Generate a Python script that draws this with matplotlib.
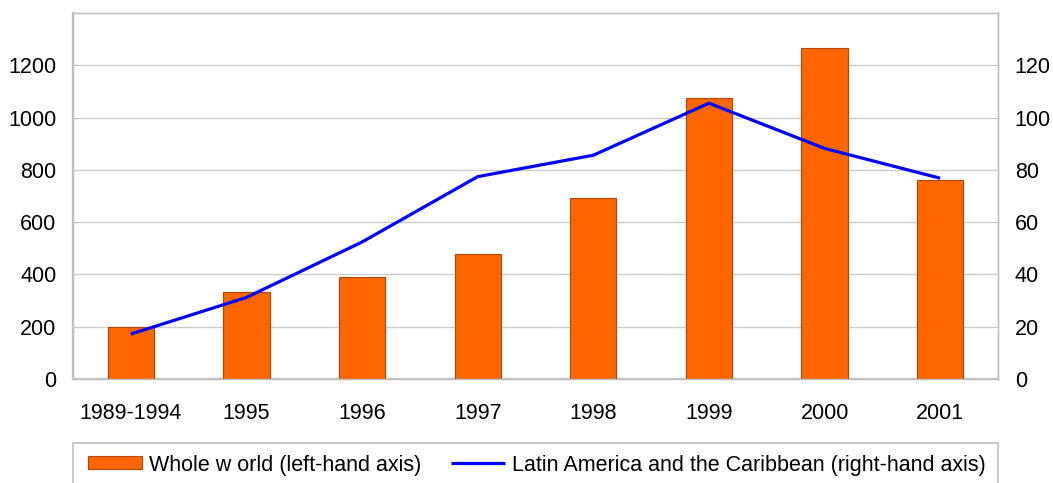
import numpy as np
import matplotlib.pyplot as plt
from matplotlib.patches import Rectangle

plt.rcParams['font.family'] = ['Liberation Sans', 'DejaVu Sans']

# data
periods = ["1989-1994", "1995", "1996", "1997", "1998", "1999", "2000", "2001"]
whole_world = [198, 334, 390, 478, 692, 1074, 1268, 760]
latin_america = [17.2, 31.2, 52.4, 77.4, 85.6, 105.5, 88.2, 76.8]

left_ticks = [0, 200, 400, 600, 800, 1000, 1200]
right_ticks = [0, 20, 40, 60, 80, 100, 120]

fs = 15.5

fig = plt.figure(figsize=(10.53, 4.83), dpi=100)
ax = fig.add_axes([73 / 1053, 1 - 379 / 483, (998 - 73) / 1053, (379 - 13) / 483])
ax2 = ax.twinx()

x = np.arange(len(periods))
bars = ax.bar(x, whole_world, width=0.4, color="#FF6600", edgecolor="#B34700",
              linewidth=0.8, zorder=3, label="Whole w orld (left-hand axis)")
line, = ax2.plot(x, latin_america, color="#0000FF", linewidth=2.3,
                 solid_capstyle="butt", label="Latin America and the Caribbean (right-hand axis)")

ax.set_xlim(-0.5, len(periods) - 0.5)
ax.set_ylim(0, 1400)
ax2.set_ylim(0, 140)
ax.set_yticks(left_ticks)
ax2.set_yticks(right_ticks)
ax.set_xticks(x)
ax.set_xticklabels(periods)

ax.grid(axis="y", color="#CCCCCC", linewidth=1.0, zorder=0)
ax.set_axisbelow(True)

for a in (ax, ax2):
    a.tick_params(axis="both", length=0, labelsize=fs, colors="black")
    for s in a.spines.values():
        s.set_color("#C0C0C0")
        s.set_linewidth(1.0)
ax.spines["left"].set_linewidth(1.6)
ax.spines["bottom"].set_linewidth(1.6)
ax.tick_params(axis="y", pad=12)
ax2.tick_params(axis="y", pad=12)
ax.tick_params(axis="x", pad=17)

# legend frame runs off the bottom of the picture
fig.patches.append(Rectangle((73 / 1053, -0.05), (998 - 73) / 1053, 0.05 + (483 - 443) / 483,
                             transform=fig.transFigure, facecolor="white",
                             edgecolor="#C0C0C0", linewidth=1.2))
fig.legend(handles=[bars, line], loc="center left", bbox_to_anchor=(88 / 1053, 1 - 465 / 483),
           ncol=2, frameon=False, fontsize=fs, handlelength=2.5, handleheight=0.56,
           handletextpad=0.33, columnspacing=1.4, borderaxespad=0, borderpad=0)

fig.savefig("out.png", dpi=100)
